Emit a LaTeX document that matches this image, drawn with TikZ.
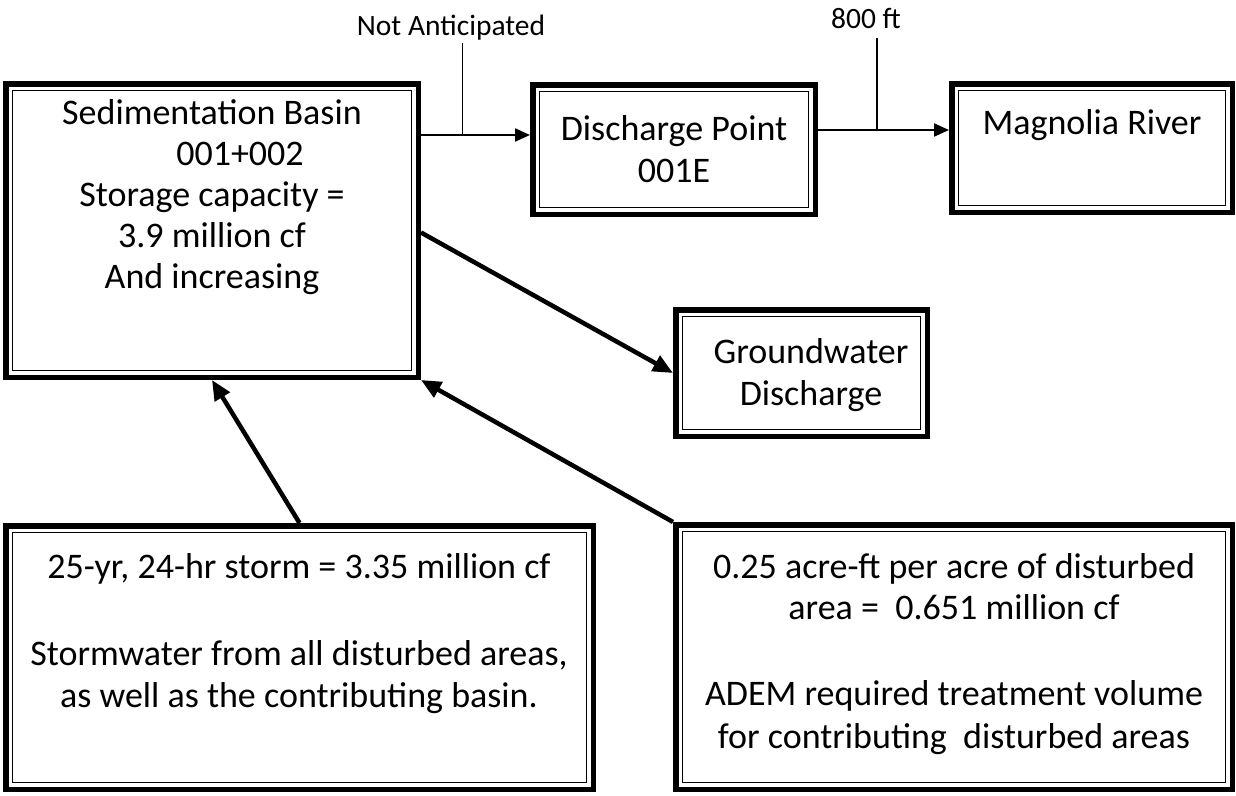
\documentclass[tikz,border=0pt]{standalone}
\usepackage{fontspec}
\setmainfont{Carlito}
\usetikzlibrary{arrows.meta,calc}
\begin{document}
\begin{tikzpicture}[x=1pt,y=-1pt,
  dbox/.style={draw, line width=5.5pt, inner sep=0pt},
  txt/.style={font=\fontsize{36}{42}\selectfont, anchor=base, inner sep=0pt},
  small/.style={font=\fontsize{29.5}{34}\selectfont, anchor=base, inner sep=0pt},
  bigarrow/.style={line width=4.5pt, -{Triangle[length=20pt,width=17pt]}},
  harrow/.style={line width=2.2pt, -{Triangle[length=15pt,width=13pt]}},
  stub/.style={line width=1.6pt}]
\useasboundingbox (0,0) rectangle (1236,795);
% boxes
\node[dbox, minimum width=412.5pt, minimum height=293.5pt] (sb) at (212,230.5) {};
\node[dbox, minimum width=282.5pt, minimum height=129.5pt] (dp) at (674,149.5) {};
\node[dbox, minimum width=280.5pt, minimum height=128.5pt] (mr) at (1092,148) {};
\node[dbox, minimum width=251.5pt, minimum height=126.5pt] (gw) at (801.5,373) {};
\node[dbox, minimum width=587.5pt, minimum height=263.5pt] (bl) at (299.5,657.5) {};
\node[dbox, minimum width=556.5pt, minimum height=264.5pt] (br) at (954,657) {};
\foreach \n in {sb,dp,mr,gw,bl,br}
  \draw[line width=1.8pt] ([shift={(9.5,9.5)}]\n.north west) rectangle ([shift={(-9.5,-9.5)}]\n.south east);
% texts
\node[txt] (sb1) at (212,124) {Sedimentation Basin};
\node[txt] (sb2) at (240,165) {001+002};
\node[txt] (sb3) at (212,206) {Storage capacity =};
\node[txt] (sb4) at (212,247) {3.9 million cf};
\node[txt] (sb5) at (212,288) {And increasing};
\node[txt] (dp1) at (674,140) {Discharge Point};
\node[txt] (dp2) at (674,182) {001E};
\node[txt] (mr1) at (1092,134) {Magnolia River};
\node[txt] (gw1) at (811,363) {Groundwater};
\node[txt] (gw2) at (811,405) {Discharge};
\node[txt] (bl1) at (299,578) {25-yr, 24-hr storm = 3.35 million cf};
\node[txt] (bl2) at (299,665) {Stormwater from all disturbed areas,};
\node[txt] (bl3) at (299,707) {as well as the contributing basin.};
\node[txt] (br1) at (954,578) {0.25 acre-ft per acre of disturbed};
\node[txt] (br2) at (954,619) {area =\ \ 0.651 million cf};
\node[txt] (br3) at (954,705) {ADEM required treatment volume};
\node[txt] (br4) at (954,748) {for contributing\ \ disturbed areas};
% connectors
\coordinate (dpin) at ([yshift=14.5pt]dp.west);
\coordinate (mrin) at ([yshift=18pt]mr.west);
\draw[harrow] (sb.east |- dpin) -- (dpin);
\draw[harrow] (dp.east |- mrin) -- (mrin);
\coordinate (na) at ($(sb.east |- dpin)!0.38!(dpin)$);
\coordinate (ft) at ($(dp.east |- mrin)!0.45!(mrin)$);
\draw[stub] (na) -- ++(0,-92);
\draw[stub] (ft) -- ++(0,-92);
\node[small] (nal) at (451,35) {Not Anticipated};
\node[small] (ftl) at (866,28) {800 ft};
\draw[bigarrow] ([yshift=-2pt]sb.east) -- (gw.west);
\draw[bigarrow] (bl.north) -- (sb.south);
\draw[bigarrow] (br.north west) -- (sb.south east);
\end{tikzpicture}
\end{document}
